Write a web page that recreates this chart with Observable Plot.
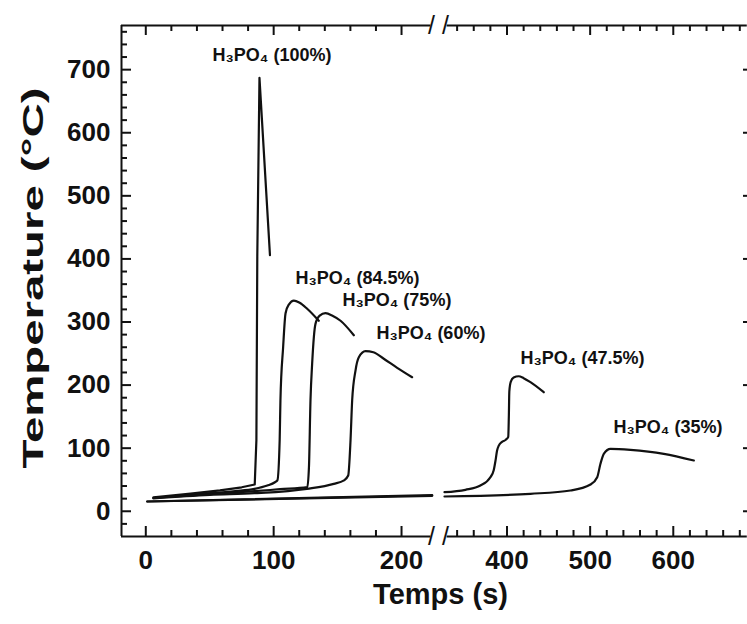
<!DOCTYPE html>
<html>
<head>
<meta charset="utf-8">
<script src="https://cdn.jsdelivr.net/npm/d3@7"></script>
<script src="https://cdn.jsdelivr.net/npm/@observablehq/plot@0.6"></script>
<style>
  body { margin: 0; background: #fff; }
  #chart svg { display: block; }
</style>
</head>
<body>
<div id="chart"></div>
<script>
// ---- Data (time in s, temperature in °C) ----
const series = ["100%", "84.5%", "75%", "60%", "47.5%", "35%"];

const time100 = [6, 35, 58, 75, 85.2, 86.5, 87.2, 88.9, 97.1];
const temp100 = [22, 28, 33, 38, 42.4, 113, 406, 687, 406];

const time845 = [6, 40, 70, 85, 95, 101, 102.9, 104.7, 105.3, 107.4, 109.3, 112, 115.8, 120, 126.2, 135.3];
const temp845 = [21, 27, 32, 35.6, 40.8, 46, 49, 113, 176, 260, 314, 328, 334, 331, 321, 302];

const time75 = [6, 50, 85, 105, 126.3, 127.6, 128.8, 130.1, 132.7, 136, 140.5, 146, 152.3, 162.7];
const temp75 = [21, 27, 31.8, 35, 38.3, 70, 176, 234, 297, 310, 314, 310, 302, 279];

const time60 = [6, 50, 85, 126, 147, 155, 158.3, 160.1, 161.4, 164, 166.6, 171.8, 178, 186.1, 196.6, 208.3];
const temp60 = [20.5, 26, 28.6, 35.6, 43.5, 49, 56.7, 112, 176, 223, 244, 253.7, 252, 241.7, 227.4, 212.5];

// 47.5 % and 35 %: part before the axis break, part after it
const time475a = [1.1, 224];
const temp475a = [15.5, 25.5];
const time475b = [324.8, 350, 368, 380, 384, 386.2, 388, 390.1, 394, 398.2, 401.5, 402.2, 402.8, 404.5, 408, 414, 420, 428.2, 444.2];
const temp475b = [30.2, 34, 40.8, 54, 65, 80.5, 96, 104, 110, 113, 118, 150, 190, 205, 212, 214, 211, 204.6, 188.7];

const time35a = [1.1, 224];
const temp35a = [15.5, 24.5];
const time35b = [324.8, 428.2, 476.4, 500.4, 508.5, 512.4, 516.4, 524.5, 548.5, 588.6, 624.7];
const temp35b = [23.4, 27.7, 32.9, 42.4, 54, 75.2, 91.1, 99, 97.4, 91.1, 80.5];

// Curve labels
const labelText = ["H₃PO₄ (100%)", "H₃PO₄ (84.5%)", "H₃PO₄ (75%)", "H₃PO₄ (60%)", "H₃PO₄ (47.5%)", "H₃PO₄ (35%)"];
const labelTime = [52.2, 117.1, 153.8, 180.4, 416.2, 528.1];
const labelTemp = [722.4, 368.9, 334.1, 281.7, 242.1, 132.8];

// Axis ticks
const xMajor = [0, 100, 200, 400, 500, 600];
const xMinor = [20, 40, 60, 80, 120, 140, 160, 180, 340, 360, 380, 420, 440, 460, 480, 520, 540, 560, 580, 620, 640, 660, 680];
const yMajor = [0, 100, 200, 300, 400, 500, 600, 700];
const yMinor = [-20, 20, 40, 60, 80, 120, 140, 160, 180, 220, 240, 260, 280, 320, 340, 360, 380, 420, 440, 460, 480, 520, 540, 560, 580, 620, 640, 660, 680, 720, 740, 760];

// Axis break: left part [-19, 225] s, right part [320, 696] s drawn with a smaller scale
const breakTime = [223.4, 326];
const breakTemp = [770, -40];
const leftEnd = 225, rightStart = 320, rightEnd = 696;
const gapWidth = 5.47;       // in left-axis units
const rightRatio = 0.6502;   // right-axis compression vs left-axis
const brokenTime = t => t <= leftEnd ? t
  : t >= rightStart ? leftEnd + gapWidth + (t - rightStart) * rightRatio
  : leftEnd + (t - leftEnd) * gapWidth / (rightStart - leftEnd);

// ---- Build tables ----
function rowsOf(name, seg, ts, Ts) { return ts.map((t, i) => ({series: name, seg, t, T: Ts[i]})); }
const rows = [
  ...rowsOf(series[0], 0, time100, temp100),
  ...rowsOf(series[1], 0, time845, temp845),
  ...rowsOf(series[2], 0, time75, temp75),
  ...rowsOf(series[3], 0, time60, temp60),
  ...rowsOf(series[4], 0, time475a, temp475a),
  ...rowsOf(series[4], 1, time475b, temp475b),
  ...rowsOf(series[5], 0, time35a, temp35a),
  ...rowsOf(series[5], 1, time35b, temp35b)
];
const spikeRows = rows.filter(d => d.series === series[0]);
const smoothRows = rows.filter(d => d.series !== series[0]);
const labels = labelText.map((s, i) => ({s, t: labelTime[i], T: labelTemp[i]}));
const breaks = breakTime.flatMap(t => breakTemp.map(T => ({t, T})));

const ink = "#111";
const plot = Plot.plot({
  width: 747,
  height: 624,
  marginLeft: 121,
  marginRight: 0,
  marginTop: 25,
  marginBottom: 88,
  style: {fontFamily: "'Liberation Sans', Arial, sans-serif", fontSize: "26px", fontWeight: "bold", color: ink, background: "#fff"},
  x: {type: "linear", transform: brokenTime, domain: [-19, brokenTime(rightEnd)], range: [121, 752.6]},
  y: {domain: [-40, 770], range: [536, 25]},
  marks: [
    // frame (broken at the axis break)
    Plot.ruleX([-19], {stroke: ink, strokeWidth: 2}),
    Plot.ruleY(breakTemp, {x1: -19, x2: 223, stroke: ink, strokeWidth: 2}),
    Plot.ruleY(breakTemp, {x1: 328, x2: 689, stroke: ink, strokeWidth: 2}),
    // inward ticks
    Plot.tickX(xMajor, {x: d => d, insetTop: 501, stroke: ink, strokeWidth: 2}),
    Plot.tickX(xMinor, {x: d => d, insetTop: 505, stroke: ink, strokeWidth: 2}),
    Plot.tickX(xMajor, {x: d => d, insetBottom: 501, stroke: ink, strokeWidth: 2}),
    Plot.tickX(xMinor, {x: d => d, insetBottom: 505, stroke: ink, strokeWidth: 2}),
    Plot.tickY(yMajor, {y: d => d, insetRight: 616, stroke: ink, strokeWidth: 2}),
    Plot.tickY(yMinor, {y: d => d, insetRight: 620, stroke: ink, strokeWidth: 2}),
    Plot.tickY(yMajor, {y: d => d, insetLeft: 622, stroke: ink, strokeWidth: 2}),
    // tick labels
    Plot.axisX(xMajor, {anchor: "bottom", tickSize: 0, tickPadding: 14, label: null}),
    Plot.axisY(yMajor, {anchor: "left", tickSize: 0, tickPadding: 11, label: null}),
    // break marks
    Plot.text(breaks, {x: "t", y: "T", text: () => "/", fontSize: 25, fontWeight: "normal", fill: ink}),
    // curves
    Plot.line(spikeRows, {x: "t", y: "T", stroke: ink, strokeWidth: 2.2, strokeLinejoin: "round"}),
    Plot.line(smoothRows, {x: "t", y: "T", z: d => d.series + "-" + d.seg, stroke: ink, strokeWidth: 2.2, curve: "monotone-x"}),
    // curve labels
    Plot.text(labels, {x: "t", y: "T", text: "s", textAnchor: "start", fontSize: 18, fill: ink}),
    // axis titles
    Plot.text(["Temps (s)"], {frameAnchor: "bottom", dx: 6, dy: 67.7, fontSize: 29, fill: ink}),
    Plot.text(["Temperature (°C)"], {frameAnchor: "left", textAnchor: "start", dx: -88, dy: 187.5, rotate: -90, fontSize: 29, fill: ink})
  ]
});

d3.select(plot).selectAll("text")
  .filter(function() { return this.textContent === "Temperature (°C)"; })
  .attr("textLength", 381)
  .attr("lengthAdjust", "spacingAndGlyphs");

document.getElementById("chart").appendChild(plot);
</script>
</body>
</html>
